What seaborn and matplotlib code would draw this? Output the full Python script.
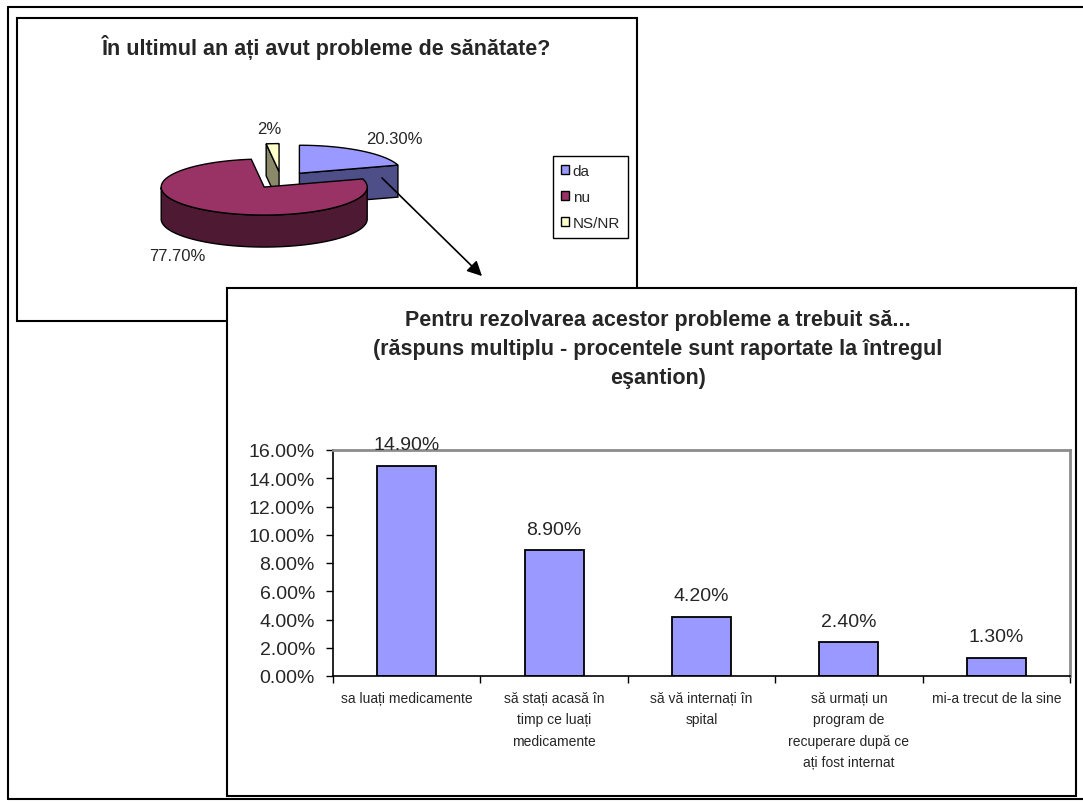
import numpy as np
import matplotlib
matplotlib.use("Agg")
import matplotlib.pyplot as plt
import seaborn as sns
from matplotlib.patches import Polygon, Rectangle, Patch
from matplotlib.ticker import PercentFormatter, FixedLocator

# --- data ---
pie_title = "În ultimul an ați avut probleme de sănătate?"
pie_labels = ["da", "nu", "NS/NR"]
pie_values = [20.3, 77.7, 2.0]
pie_texts = ["20.30%", "77.70%", "2%"]
pie_top_colors = ["#9999FF", "#993366", "#FFFFCC"]
pie_side_colors = ["#4E4E88", "#4D1933", "#8A8A6A"]

bar_title = ("Pentru rezolvarea acestor probleme a trebuit să...\n"
             "(răspuns multiplu - procentele sunt raportate la întregul\n"
             "eşantion)")
bar_categories = [
    "sa luați medicamente",
    "să stați acasă în\ntimp ce luați\nmedicamente",
    "să vă internați în\nspital",
    "să urmați un\nprogram de\nrecuperare după ce\nați fost internat",
    "mi-a trecut de la sine",
]
bar_values = [14.9, 8.9, 4.2, 2.4, 1.3]
y_ticks = [0, 2, 4, 6, 8, 10, 12, 14, 16]

sns.set_theme(style="white")
plt.rcParams["font.family"] = ["Liberation Sans", "DejaVu Sans"]

W, H = 1083, 803
fig = plt.figure(figsize=(W / 100, H / 100), dpi=100)
fig.patch.set_facecolor("white")

# background layer in pixel coordinates
bg = fig.add_axes([0, 0, 1, 1])
bg.set_xlim(0, W)
bg.set_ylim(H, 0)
bg.axis("off")
bg.set_zorder(0)

# outer frame
bg.plot([8, W], [8, 8], color="black", lw=1.5, zorder=1)
bg.plot([8, 8], [8, 800], color="black", lw=1.5, zorder=1)
bg.plot([8, W], [800, 800], color="black", lw=1.5, zorder=1)

# pie box
bg.add_patch(Rectangle((17, 19), 620, 303, facecolor="white", edgecolor="black", lw=1.5, zorder=1))
bg.text(327, 47, pie_title, ha="center", va="center", fontsize=15.5, fontweight="bold", zorder=3)


def draw_pie3d(ax, values, tops, sides, cx, cy, rx, ry, depth, explode):
    fracs = np.array(values) / np.sum(values)
    slices = []
    a = 90.0
    for f in fracs:
        slices.append((a - 360 * f, a))
        a -= 360 * f
    order = sorted(range(len(slices)),
                   key=lambda i: -np.sin(np.radians((slices[i][0] + slices[i][1]) / 2)))
    for i in order:
        t1, t2 = slices[i]
        tm = np.radians((t1 + t2) / 2)
        ox, oy = explode * rx * np.cos(tm), -explode * ry * np.sin(tm)
        ax0, ay0 = cx + ox, cy + oy
        t = np.radians(np.linspace(t1, t2, 400))
        xs = ax0 + rx * np.cos(t)
        ys = ay0 - ry * np.sin(t)
        # cut faces
        for ang, is_start in [(t1, True), (t2, False)]:
            c = np.cos(np.radians(ang))
            if (is_start and c > 1e-6) or (not is_start and c < -1e-6):
                rxp = ax0 + rx * c
                ryp = ay0 - ry * np.sin(np.radians(ang))
                ax.add_patch(Polygon([(ax0, ay0), (rxp, ryp), (rxp, ryp + depth), (ax0, ay0 + depth)],
                                     closed=True, facecolor=sides[i], edgecolor="black", lw=1, zorder=2))
        # outer side
        vis = np.sin(t) < 0
        if vis.any():
            sx, sy = xs[vis], ys[vis]
            pts = list(zip(sx, sy)) + list(zip(sx[::-1], sy[::-1] + depth))
            ax.add_patch(Polygon(pts, closed=True, facecolor=sides[i], edgecolor="black", lw=1, zorder=2))
        # top
        pts = [(ax0, ay0)] + list(zip(xs, ys))
        ax.add_patch(Polygon(pts, closed=True, facecolor=tops[i], edgecolor="black", lw=1, zorder=2))
    return slices


cx, cy, rx, ry, depth = 281, 181, 103, 28, 32
slices = draw_pie3d(bg, pie_values, pie_top_colors, pie_side_colors, cx, cy, rx, ry, depth, 0.3)
for (t1, t2), txt in zip(slices, pie_texts):
    tm = np.radians((t1 + t2) / 2)
    lx = cx + 1.85 * rx * np.cos(tm)
    ly = cy - 1.85 * ry * np.sin(tm) + (depth if np.sin(tm) < 0 else 0)
    bg.text(lx, ly, txt, ha="center", va="center", fontsize=12, zorder=3)

handles = [Patch(facecolor=c, edgecolor="black", lw=1) for c in pie_top_colors]
bg.legend(handles, pie_labels, loc="upper left", bbox_to_anchor=(553, 157),
          bbox_transform=bg.transData, fontsize=11, frameon=True, fancybox=False,
          edgecolor="black", framealpha=1, borderpad=0.5, labelspacing=0.8,
          handlelength=0.55, handleheight=0.55, handletextpad=0.25, borderaxespad=0)

bg.annotate("", xy=(484, 279), xytext=(380, 177),
            arrowprops=dict(arrowstyle="-|>", color="black", lw=1.2, mutation_scale=22), zorder=4)

# bar box
bg.add_patch(Rectangle((227, 289), 849, 508, facecolor="white", edgecolor="black", lw=1.5, zorder=5))
fig.text(658 / W, 1 - 350 / H, bar_title, ha="center", va="center", fontsize=15.5,
         fontweight="bold", linespacing=1.5, multialignment="center", zorder=6)

# bar chart
ax = fig.add_axes([333 / W, 1 - 677 / H, 737 / W, 226 / H])
ax.set_zorder(1)
sns.barplot(x=list(range(len(bar_values))), y=bar_values, color="#9999FF", saturation=1,
            edgecolor="black", linewidth=1.3, width=0.4, ax=ax)
ax.set_ylim(0, 16)
ax.set_xlim(-0.5, len(bar_values) - 0.5)
ax.yaxis.set_major_locator(FixedLocator(y_ticks))
ax.yaxis.set_major_formatter(PercentFormatter(xmax=100, decimals=2))
ax.set_xticks(range(len(bar_categories)))
ax.set_xticklabels(bar_categories, fontsize=10, linespacing=1.65, va="top")
ax.set_xticks(np.arange(-0.5, len(bar_values)), minor=True)
ax.tick_params(axis="x", which="major", length=0, pad=11)
ax.tick_params(axis="x", which="minor", length=5, width=1, color="black", direction="out", bottom=True)
ax.tick_params(axis="y", length=5, width=1, color="black", direction="out", left=True, labelsize=14, pad=8)
ax.set_xlabel("")
ax.set_ylabel("")
for s in ["left", "bottom"]:
    ax.spines[s].set_color("black")
    ax.spines[s].set_linewidth(1.2)
for s in ["top", "right"]:
    ax.spines[s].set_color("#8C8C8C")
    ax.spines[s].set_linewidth(2)
for container in ax.containers:
    ax.bar_label(container, labels=[f"{v:.2f}%" for v in bar_values], fontsize=14, padding=9)

fig.savefig("out.png", dpi=100)
